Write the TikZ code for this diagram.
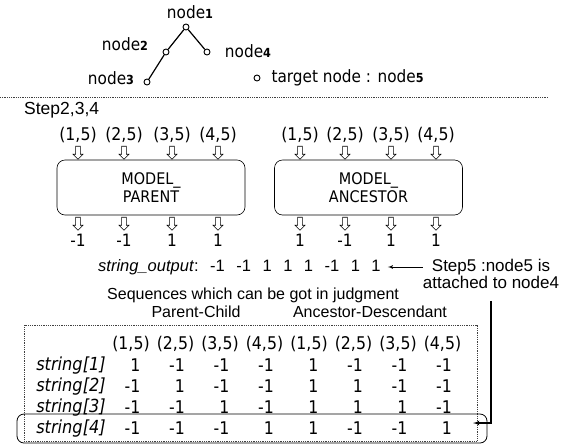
\documentclass[tikz,border=0pt]{standalone}
\usepackage{fontspec}
\setmainfont{DejaVu Sans}[FakeStretch=0.9]
\newfontfamily\arialfont{Liberation Sans}
\usetikzlibrary{arrows,shapes.arrows,positioning}

\newcommand\setpx[1]{\fontsize{#1}{#1}\selectfont}
\newcommand\nodenum[1]{node{\fontsize{12.5}{12.5}\selectfont\bfseries #1}}

\begin{document}
\begin{tikzpicture}[
    x=1pt,y=-1pt,
    >=latex',
    treedot/.style={circle,draw,line width=0.9pt,inner sep=0pt,minimum size=6pt,fill=white},
    treelabel/.style={font=\setpx{17}},
    pair/.style={font=\setpx{17.5},inner sep=0pt},
    hollow/.style={
      single arrow,
      draw,
      line width=0.6pt,
      shape border rotate=270,
      minimum height=13pt,
      minimum width=10pt,
      single arrow head extend=2.5pt,
      single arrow head indent=0pt,
      inner sep=2pt},
    model/.style={
      rectangle,
      rounded corners=8pt,
      draw,
      line width=0.6pt,
      minimum width=188pt,
      minimum height=55pt,
      align=center,
      font=\fontsize{16}{18.5}\selectfont},
    value/.style={font=\setpx{17},inner sep=0pt},
    plain/.style={font=\arialfont\setpx{16},inner sep=0pt},
    cell/.style={font=\setpx{17.5},inner sep=0pt,anchor=east},
    rowname/.style={font=\setpx{18}\itshape,inner sep=0pt}
  ]
  \useasboundingbox (0,0) rectangle (570,445);

  % the tree so far
  \node[treedot] (n1) at (186,27) {};
  \node[treedot] (n2) at (166,52) {};
  \node[treedot] (n3) at (147,82) {};
  \node[treedot] (n4) at (207,52) {};
  \draw[line width=1.2pt] (n1) -- (n2) -- (n3);
  \draw[line width=1.2pt] (n1) -- (n4);
  \node[treelabel] (l1) at (190,12) {\nodenum1};
  \node[treelabel] (l2) at (125,44) {\nodenum2};
  \node[treelabel] (l3) at (111,78) {\nodenum3};
  \node[treelabel] (l4) at (248,51) {\nodenum4};
  \node[treedot] (n5) at (257,78) {};
  \node[treelabel,anchor=west] (target) at (268,78) {target node : \nodenum5};

  \draw[densely dotted,line width=0.8pt,black!75] (0,97) -- (548,97);

  % models
  \node[plain,anchor=west,font=\arialfont\setpx{17.5}] (steps) at (24,110) {Step2,3,4};
  \node[model] (parent) at (151,187.5) {MODEL\_\\PARENT};
  \node[model] (ancestor) at (368.5,187.5) {MODEL\_\\ANCESTOR};
  \foreach \x/\v [count=\i] in {78/-1,124/-1,172/1,218/1} {
    \node[pair] (pin\i) at (\x,135) {(\i,5)};
    \node[hollow] (pa\i) at (\x,151.5) {};
    \node[hollow] (pb\i) at (\x,222.5) {};
    \node[value] (pv\i) at (\x,240) {\v};
  }
  \foreach \x/\v [count=\i] in {300/1,345/-1,391/1,436/1} {
    \node[pair] (ain\i) at (\x,135) {(\i,5)};
    \node[hollow] (aa\i) at (\x,151.5) {};
    \node[hollow] (ab\i) at (\x,222.5) {};
    \node[value] (av\i) at (\x,240) {\v};
  }

  % result
  \node[plain,anchor=west,font=\arialfont\setpx{16.5}] (output) at (98,267)
    {\textit{string\_output}:\hspace{11.5pt}-1\hspace{11.5pt}-1\hspace{11.5pt}1\hspace{11.5pt}1\hspace{11.5pt}1\hspace{11.5pt}-1\hspace{11.5pt}1\hspace{11.5pt}1};
  \node[plain,align=center,font=\arialfont\fontsize{17}{14.5}\selectfont] (step5) at (491,274) {Step5 :node5 is\\attached to node4};
  \draw[->,line width=0.8pt] (step5.west |- output.east) -- ([xshift=7pt]output.east);

  % table
  \node[plain,anchor=west] (seq) at (107,295) {Sequences which can be got in judgment};
  \node[plain] (pc) at (196,312) {Parent-Child};
  \node[plain] (ad) at (370,312) {Ancestor-Descendant};
  \node[draw,densely dotted,line width=0.8pt,black!75,minimum width=453pt,minimum height=116pt] (tbl) at (250.5,383) {};
  \node[draw,rounded corners=7pt,line width=0.8pt,minimum width=470pt,minimum height=29pt] (pick) at (252,428.5) {};
  \foreach \c [count=\i] in {1,2,3,4,1,2,3,4}
    \node[pair] (h\i) at ({86.5+44.5*\i},344) {(\c,5)};
  \foreach \r/\vals in {1/{1,-1,-1,-1,1,-1,-1,-1},2/{-1,1,-1,-1,1,1,-1,-1},3/{-1,-1,1,-1,1,1,1,-1},4/{-1,-1,-1,1,1,-1,-1,1}} {
    \node[rowname] (s\r) at (71,{344.5+20.9*\r}) {string[\r]};
    \foreach \v [count=\i] in \vals
      \node[cell] (c\r\i) at ({96+44.5*\i},{344.5+20.9*\r}) {\v};
  }
  \coordinate[below=12pt of step5] (drop);
  \coordinate (hit) at (473,423);
  \draw[->,line width=1.2pt] (drop) |- (hit);
\end{tikzpicture}
\end{document}
